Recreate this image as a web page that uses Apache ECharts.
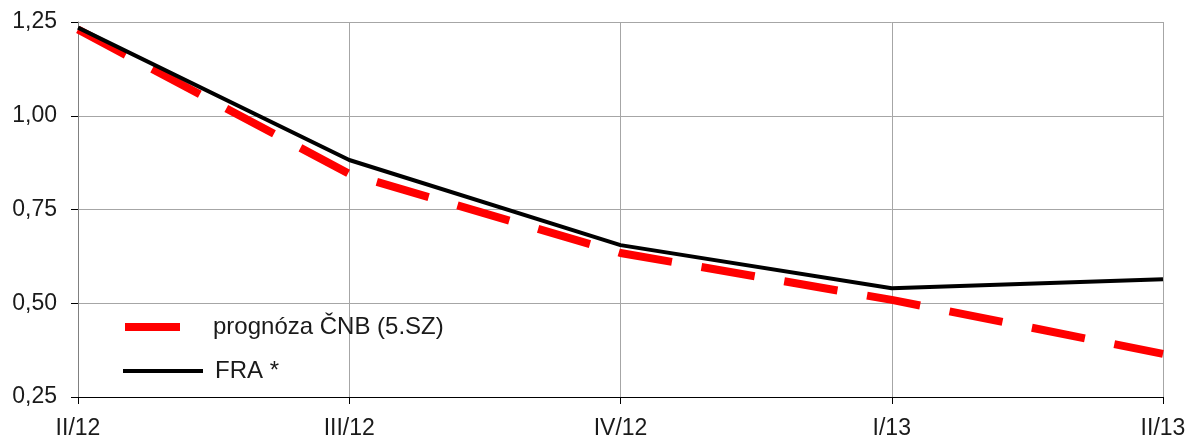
<!DOCTYPE html>
<html>
<head>
<meta charset="utf-8">
<script src="https://cdn.jsdelivr.net/npm/echarts@6/dist/echarts.min.js"></script>
<style>
  html, body { margin: 0; padding: 0; background: #fff; }
  #chart { width: 1194px; height: 443px; }
</style>
</head>
<body>
<div id="chart"></div>
<script>
// Quarters on the horizontal axis
const quarters = ['II/12', 'III/12', 'IV/12', 'I/13', 'II/13'];
// CNB forecast of the 3M interest rate (%)
const forecastCNB = [1.23, 0.845, 0.634, 0.509, 0.365];
// Market FRA rates (%)
const fraRates = [1.235, 0.882, 0.655, 0.540, 0.564];
// Value axis range and step
const yMin = 0.25, yMax = 1.25, yStep = 0.25;

const fontFamily = '"Liberation Sans", Arial, sans-serif';

const chart = echarts.init(document.getElementById('chart'), null, { renderer: 'canvas' });
chart.setOption({
  animation: false,
  backgroundColor: '#ffffff',
  grid: { left: 78, right: 31, top: 22, bottom: 46, containLabel: false },
  legend: [
    {
      data: [{ name: 'prognóza ČNB (5.SZ)', icon: 'rect' }],
      left: 125, top: 315, padding: 0,
      orient: 'vertical',
      itemWidth: 55, itemHeight: 8,
      textStyle: { fontFamily, fontSize: 24, color: '#1a1a1a', padding: [0, 0, 0, 28] },
      selectedMode: false
    },
    {
      data: [{ name: 'FRA *', icon: 'rect' }],
      left: 123, top: 359, padding: 0,
      orient: 'vertical',
      itemWidth: 80, itemHeight: 4,
      textStyle: { fontFamily, fontSize: 24, color: '#1a1a1a', padding: [0, 0, 0, 7] },
      selectedMode: false
    }
  ],
  xAxis: {
    type: 'category',
    data: quarters,
    boundaryGap: false,
    axisLine: { lineStyle: { color: '#000', width: 1 } },
    axisTick: { show: true, length: 7, inside: false, lineStyle: { color: '#000' } },
    axisLabel: { fontFamily, fontSize: 23, color: '#1a1a1a', margin: 20 },
    splitLine: { show: true, lineStyle: { color: '#a6a6a6', width: 1 } }
  },
  yAxis: {
    type: 'value',
    min: yMin, max: yMax, interval: yStep,
    axisLine: { show: true, lineStyle: { color: '#808080', width: 1 } },
    axisTick: { show: true, length: 7, lineStyle: { color: '#000' } },
    axisLabel: {
      fontFamily, fontSize: 23, color: '#1a1a1a', margin: 21,
      formatter: v => v.toFixed(2).replace('.', ',')
    },
    splitLine: { show: true, lineStyle: { color: '#a6a6a6', width: 1 } }
  },
  series: [
    {
      name: 'prognóza ČNB (5.SZ)',
      type: 'line',
      data: forecastCNB,
      symbol: 'none',
      color: '#ff0000',
      lineStyle: { color: '#ff0000', width: 8, type: [54, 30], cap: 'butt' },
      z: 2
    },
    {
      name: 'FRA *',
      type: 'line',
      data: fraRates,
      symbol: 'none',
      color: '#000000',
      lineStyle: { color: '#000000', width: 4 },
      z: 3
    }
  ]
});
</script>
</body>
</html>
